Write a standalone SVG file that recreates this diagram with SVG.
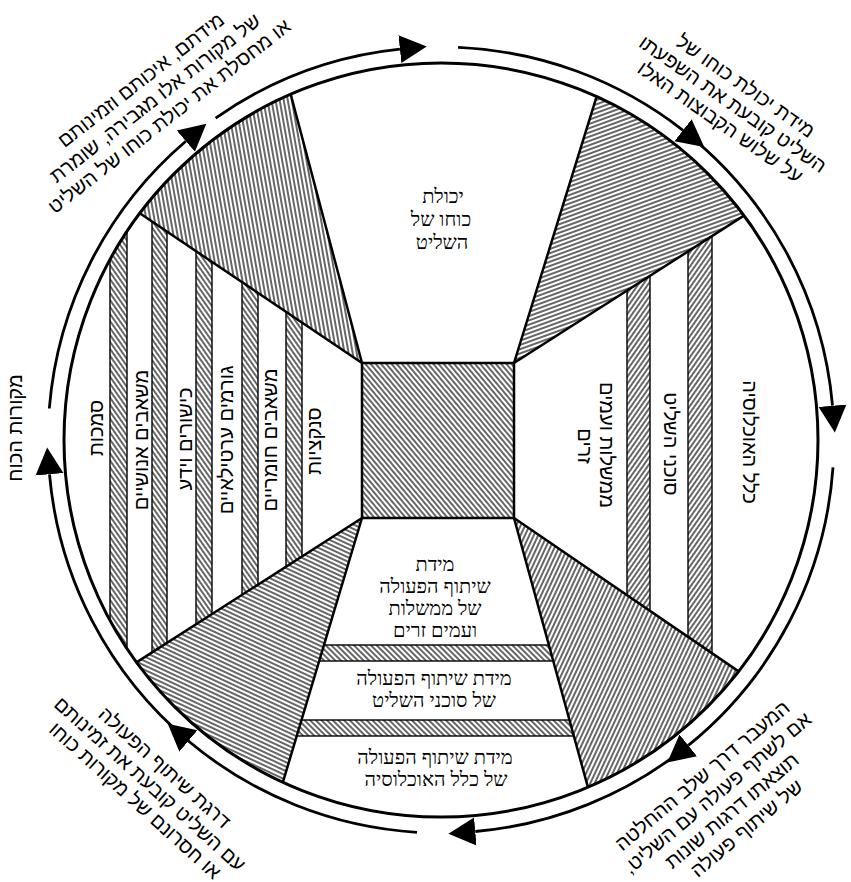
<svg xmlns="http://www.w3.org/2000/svg" width="851" height="882" viewBox="0 0 851 882">
<style>
.wh{fill:#fff}
.ol{fill:none;stroke:#000;stroke-width:2.5;stroke-linejoin:round}
.st{stroke:#000;stroke-width:1.4}
.ring{fill:none;stroke:#000;stroke-width:2.8;marker-end:url(#ah)}
.t{font-family:"Liberation Sans","DejaVu Sans",sans-serif;font-size:20px;fill:#000;text-anchor:middle;dominant-baseline:central;direction:rtl}
.c{font-family:"Liberation Serif","DejaVu Sans",serif;font-size:20px;fill:#000;text-anchor:middle;direction:rtl}
.o{font-family:"Liberation Sans","DejaVu Sans",sans-serif;font-size:20px;fill:#000;text-anchor:middle;dominant-baseline:central;direction:rtl}
</style>
<defs>
<pattern id="hb" width="10" height="4" patternUnits="userSpaceOnUse" patternTransform="rotate(50)"><rect width="10" height="4" fill="#fff"/><line x1="0" y1="2" x2="10" y2="2" stroke="#000" stroke-width="1.2"/></pattern>
<pattern id="hTL" href="#hb" patternTransform="rotate(80)"/>
<pattern id="hTR" href="#hb" patternTransform="rotate(-20)"/>
<pattern id="hBL" href="#hb" patternTransform="rotate(25)"/>
<pattern id="hBR" href="#hb" patternTransform="rotate(-65)"/>
<pattern id="hL" href="#hb" patternTransform="rotate(55)"/>
<pattern id="hR" href="#hb" patternTransform="rotate(-55)"/>
<pattern id="hH" href="#hb" patternTransform="rotate(45)"/>
<clipPath id="cL"><path d="M362,518 L136.5,662.4 A377,377 0 0 1 139.8,213.3 L362,363 Z"/></clipPath>
<clipPath id="cR"><path d="M514,363 L743.9,215.6 A377,377 0 0 1 738.6,671.4 L514,518 Z"/></clipPath>
<clipPath id="cB"><path d="M514,518 L587.9,787.2 A377,377 0 0 1 282.9,782.2 L362,518 Z"/></clipPath>
<marker id="ah" markerUnits="userSpaceOnUse" markerWidth="30" markerHeight="30" viewBox="0 -15 30 30" refX="0" refY="0" orient="auto"><path d="M0,-14 L27,0 L0,14 Z" fill="#000"/></marker>
</defs>
<rect width="851" height="882" fill="#fff"/>

<g id="wheel">
<g id="power">
<path class="wh" d="M362,363 L290.7,94.3 A377,377 0 0 1 596.6,96.6 L514,363 Z"/>
<text class="c" x="443" y="203">יכולת</text>
<text class="c" x="441" y="226">כוחו של</text>
<text class="c" x="442" y="249">השליט</text>
</g>
<path id="wedge-tr" d="M514,363 L596.6,96.6 A377,377 0 0 1 743.9,215.6 Z" fill="url(#hTR)"/>
<path id="wedge-tl" d="M362,363 L139.8,213.3 A377,377 0 0 1 290.7,94.3 Z" fill="url(#hTL)"/>
<path id="wedge-bl" d="M362,518 L282.9,782.2 A377,377 0 0 1 136.5,662.4 Z" fill="url(#hBL)"/>
<path id="wedge-br" d="M514,518 L738.6,671.4 A377,377 0 0 1 587.9,787.2 Z" fill="url(#hBR)"/>
<rect id="hub" x="362" y="363" width="152" height="155" fill="url(#hb)"/>

<g id="sources">
<path class="wh" d="M362,518 L136.5,662.4 A377,377 0 0 1 139.8,213.3 L362,363 Z"/>
<g clip-path="url(#cL)" fill="url(#hL)">
<rect class="st" x="110" y="150" width="17" height="560"/>
<rect class="st" x="152" y="150" width="15" height="560"/>
<rect class="st" x="196" y="150" width="16" height="560"/>
<rect class="st" x="242" y="150" width="16" height="560"/>
<rect class="st" x="286" y="150" width="16" height="560"/>
</g>
<text class="t" transform="translate(96,428) rotate(-90)">סמכות</text>
<text class="t" transform="translate(141,440) rotate(-90)">משאבים אנושיים</text>
<text class="t" transform="translate(185,439) rotate(-90)">כישורים וידע</text>
<text class="t" transform="translate(226,440) rotate(-90)">גורמים ערטילאיים</text>
<text class="t" transform="translate(270,440) rotate(-90)">משאבים חומריים</text>
<text class="t" transform="translate(314,441) rotate(-90)">סנקציות</text>
</g>

<g id="groups">
<path class="wh" d="M514,363 L743.9,215.6 A377,377 0 0 1 738.6,671.4 L514,518 Z"/>
<g clip-path="url(#cR)" fill="url(#hR)">
<rect class="st" x="627" y="150" width="23" height="560"/>
<rect class="st" x="688" y="150" width="24" height="560"/>
</g>
<text class="t" transform="translate(607,445) rotate(90)">ממשלות ועמים</text>
<text class="t" transform="translate(585,446) rotate(90)">זרים</text>
<text class="t" transform="translate(671,444) rotate(90)">סוכני השליט</text>
<text class="t" transform="translate(750,442) rotate(90)">כלל האוכלוסיה</text>
</g>

<g id="cooperation">
<path class="wh" d="M514,518 L587.9,787.2 A377,377 0 0 1 282.9,782.2 L362,518 Z"/>
<g clip-path="url(#cB)" fill="url(#hH)">
<rect class="st" x="250" y="645" width="380" height="16"/>
<rect class="st" x="250" y="720" width="380" height="16"/>
</g>
<text class="c" x="435" y="571">מידת</text>
<text class="c" x="435" y="593">שיתוף הפעולה</text>
<text class="c" x="435" y="615">של ממשלות</text>
<text class="c" x="435" y="637">ועמים זרים</text>
<text class="c" x="434" y="685">מידת שיתוף הפעולה</text>
<text class="c" x="434" y="707">של סוכני השליט</text>
<text class="c" x="435" y="764">מידת שיתוף הפעולה</text>
<text class="c" x="436" y="786">של כלל האוכלוסיה</text>
</g>

<g id="outlines" class="ol">
<path d="M362,363 L290.7,94.3 M514,363 L596.6,96.6 M514,363 L743.9,215.6 M362,363 L139.8,213.3 M362,518 L282.9,782.2 M362,518 L136.5,662.4 M514,518 L738.6,671.4 M514,518 L587.9,787.2"/>
<rect x="362" y="363" width="152" height="155"/>
<circle cx="441" cy="440" r="377" stroke-width="3"/>
</g>
</g>

<g id="connectors">
<path class="ring" d="M458.1,47.4 A393,393 0 0 1 683.0,130.3"/>
<path class="ring" d="M683.0,130.3 A393,393 0 0 1 832.5,405.7"/>
<path class="ring" d="M833.0,467.4 A393,393 0 0 1 688.3,745.4"/>
<path class="ring" d="M688.3,745.4 A393,393 0 0 1 475.3,831.5"/>
<path class="ring" d="M417.0,832.3 A393,393 0 0 1 188.4,741.0"/>
<path class="ring" d="M188.4,741.0 A393,393 0 0 1 49.5,474.3"/>
<path class="ring" d="M49.3,408.5 A393,393 0 0 1 185.8,141.2"/>
<path class="ring" d="M215.6,118.1 A393,393 0 0 1 399.9,49.2"/>
</g>

<g id="label-sources"><text class="t" transform="translate(15,428) rotate(-90)">מקורות הכוח</text></g>

<g id="label-tl" transform="translate(155,98) rotate(-38)">
<text class="o" x="0" y="-23">מידתם, איכותם וזמינותם</text>
<text class="o" x="0" y="0">של מקורות אלו מגבירה, שומרת</text>
<text class="o" x="0" y="23">או מחסלת את יכולת כוחו של השליט</text>
</g>
<g id="label-tr" transform="translate(733,104) rotate(35)">
<text class="o" x="0" y="-22">מידת יכולת כוחו של</text>
<text class="o" x="0" y="0">השליט קובעת את השפעתו</text>
<text class="o" x="0" y="22">על שלוש הקבוצות האלו</text>
</g>
<g id="label-br" transform="translate(717,793) rotate(-40)">
<text class="o" x="0" y="-23">המעבר דרך שלב ההחלטה</text>
<text class="o" x="0" y="0">אם לשתף פעולה עם השליט,</text>
<text class="o" x="0" y="23">תוצאתו דרגות שונות</text>
<text class="o" x="0" y="46">של שיתוף פעולה</text>
</g>
<g id="label-bl" transform="translate(150,784) rotate(42)">
<text class="o" x="0" y="-22">דרגת שיתוף הפעולה</text>
<text class="o" x="0" y="0">עם השליט קובעת את זמינותם</text>
<text class="o" x="0" y="22">או חסרונם של מקורות כוחו</text>
</g>
</svg>
